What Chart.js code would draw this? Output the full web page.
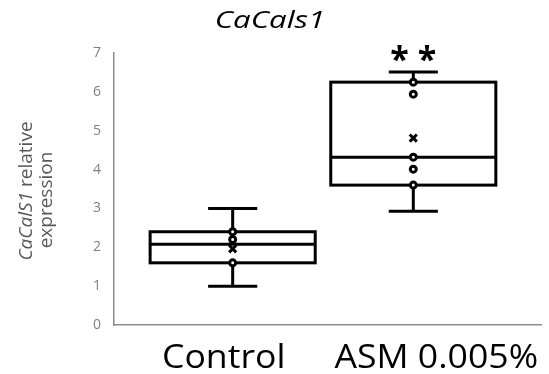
<!DOCTYPE html>
<html>
<head>
<meta charset="utf-8">
<script src="https://cdn.jsdelivr.net/npm/chart.js@4.4.1/dist/chart.umd.min.js"></script>
<style>
  html, body { margin: 0; padding: 0; background: #fff; }
  #wrap { width: 549px; height: 374px; }
</style>
</head>
<body>
<div id="wrap"><canvas id="canvas"></canvas></div>
<script>
var categories = ['Control', 'ASM 0.005%'];
var positions = [1, 2];

// five-number summaries per group
var mins = [1.0, 2.93];
var q1s = [1.6, 3.6];
var medians = [2.08, 4.32];
var q3s = [2.4, 6.25];
var maxs = [3.0, 6.51];
var means = [1.96, 4.81];

// individual replicates shown inside the boxes
var pointsControl = [2.4, 2.2, 1.6];
var pointsAsm = [6.25, 5.94, 4.32, 4.01, 3.6];

var yTicks = [0, 1, 2, 3, 4, 5, 6, 7];
var significance = ['', '* *'];

var boxHalf = 0.457;
var capHalf = 0.136;
var labelNudge = [-9, 23];

var pointData = [];
pointsControl.forEach(function (v) { pointData.push({x: positions[0], y: v}); });
pointsAsm.forEach(function (v) { pointData.push({x: positions[1], y: v}); });

var meanData = means.map(function (v, i) { return {x: positions[i], y: v}; });

// centred text, widened by sx
function wideText(ctx, text, x, y, sx) {
    ctx.save();
    ctx.translate(x, y);
    ctx.scale(sx, 1);
    ctx.fillText(text, 0, 0);
    ctx.restore();
}

var boxPlugin = {
    id: 'boxes',
    beforeDatasetsDraw: function (chart) {
        var ctx = chart.ctx;
        var xs = chart.scales.x, ys = chart.scales.y;
        ctx.save();
        ctx.strokeStyle = '#000';
        ctx.lineWidth = 3;
        ctx.lineCap = 'butt';
        positions.forEach(function (p, i) {
            var cx = xs.getPixelForValue(p);
            var l = xs.getPixelForValue(p - boxHalf), r = xs.getPixelForValue(p + boxHalf);
            var cl = xs.getPixelForValue(p - capHalf), cr = xs.getPixelForValue(p + capHalf);
            var yMin = ys.getPixelForValue(mins[i]), yMax = ys.getPixelForValue(maxs[i]);
            var yq1 = ys.getPixelForValue(q1s[i]), yq3 = ys.getPixelForValue(q3s[i]);
            var ymed = ys.getPixelForValue(medians[i]);
            ctx.beginPath();
            // whiskers
            ctx.moveTo(cx, yq3); ctx.lineTo(cx, yMax);
            ctx.moveTo(cx, yq1); ctx.lineTo(cx, yMin);
            ctx.moveTo(cl, yMax); ctx.lineTo(cr, yMax);
            ctx.moveTo(cl, yMin); ctx.lineTo(cr, yMin);
            // median
            ctx.moveTo(l, ymed); ctx.lineTo(r, ymed);
            ctx.stroke();
            ctx.strokeRect(l, yq3, r - l, yq1 - yq3);
        });
        ctx.restore();
    },
    afterDraw: function (chart) {
        var ctx = chart.ctx;
        var xs = chart.scales.x, ys = chart.scales.y;
        ctx.save();

        // title
        ctx.fillStyle = '#000';
        ctx.textAlign = 'center';
        ctx.textBaseline = 'alphabetic';
        ctx.font = 'italic 24px "Open Sans"';
        wideText(ctx, 'CaCals1', 270, 28, 1.3);

        // category labels
        ctx.font = '33px "Open Sans"';
        categories.forEach(function (c, i) {
            wideText(ctx, c, xs.getPixelForValue(positions[i]) + labelNudge[i], 368, 1.08);
        });

        // significance marks above the upper whisker
        ctx.font = 'bold 34px "Open Sans"';
        significance.forEach(function (s, i) {
            if (!s) return;
            ctx.fillText(s, xs.getPixelForValue(positions[i]), ys.getPixelForValue(maxs[i]) - 1);
        });

        // y axis title, gene name in italics
        ctx.fillStyle = '#595959';
        ctx.save();
        ctx.translate(0, 191);
        ctx.rotate(-Math.PI / 2);
        var italicPart = 'CaCalS1', rest = ' relative';
        ctx.font = 'italic 19px "Open Sans"';
        var w1 = ctx.measureText(italicPart).width;
        ctx.font = '19px "Open Sans"';
        var w2 = ctx.measureText(rest).width;
        var start = -(w1 + w2) / 2;
        ctx.textAlign = 'left';
        ctx.font = 'italic 19px "Open Sans"';
        ctx.fillText(italicPart, start, 32);
        ctx.font = '19px "Open Sans"';
        ctx.fillText(rest, start + w1, 32);
        ctx.restore();
        ctx.translate(0, 200);
        ctx.rotate(-Math.PI / 2);
        ctx.textAlign = 'center';
        ctx.font = '19px "Open Sans"';
        ctx.fillText('expression', 0, 52);
        ctx.restore();
    }
};

var config = {type: 'scatter', plugins: [boxPlugin]};
config.data = {
    datasets: [
        {
            label: 'points',
            data: pointData,
            pointStyle: 'circle',
            pointRadius: 3,
            pointBorderWidth: 3,
            pointBackgroundColor: '#fff',
            pointBorderColor: '#000'
        },
        {
            label: 'mean',
            data: meanData,
            pointStyle: 'crossRot',
            pointRadius: 5,
            pointBorderWidth: 3,
            pointBorderColor: '#000'
        }
    ]
};
config.options = {
    responsive: true,
    maintainAspectRatio: false,
    animation: false,
    layout: {padding: {top: 53, bottom: 49, left: 0, right: 0}},
    plugins: {
        legend: {display: false},
        tooltip: {enabled: false}
    },
    scales: {
        x: {
            type: 'linear',
            min: 0.343,
            max: 2.707,
            ticks: {display: false},
            grid: {display: false},
            border: {display: true, color: '#8c8c8c', width: 1.5},
            afterFit: function (scale) { scale.height = 0; }
        },
        y: {
            min: 0,
            max: 7,
            afterBuildTicks: function (scale) {
                scale.ticks = yTicks.map(function (v) { return {value: v}; });
            },
            ticks: {
                color: '#7f7f7f',
                font: {family: 'Open Sans', size: 14},
                padding: 13
            },
            grid: {display: false, drawTicks: false},
            border: {display: true, color: '#8c8c8c', width: 1.5},
            afterFit: function (scale) { scale.width = 114; }
        }
    }
};

var chart = new Chart(document.getElementById('canvas'), config);
</script>
</body>
</html>
